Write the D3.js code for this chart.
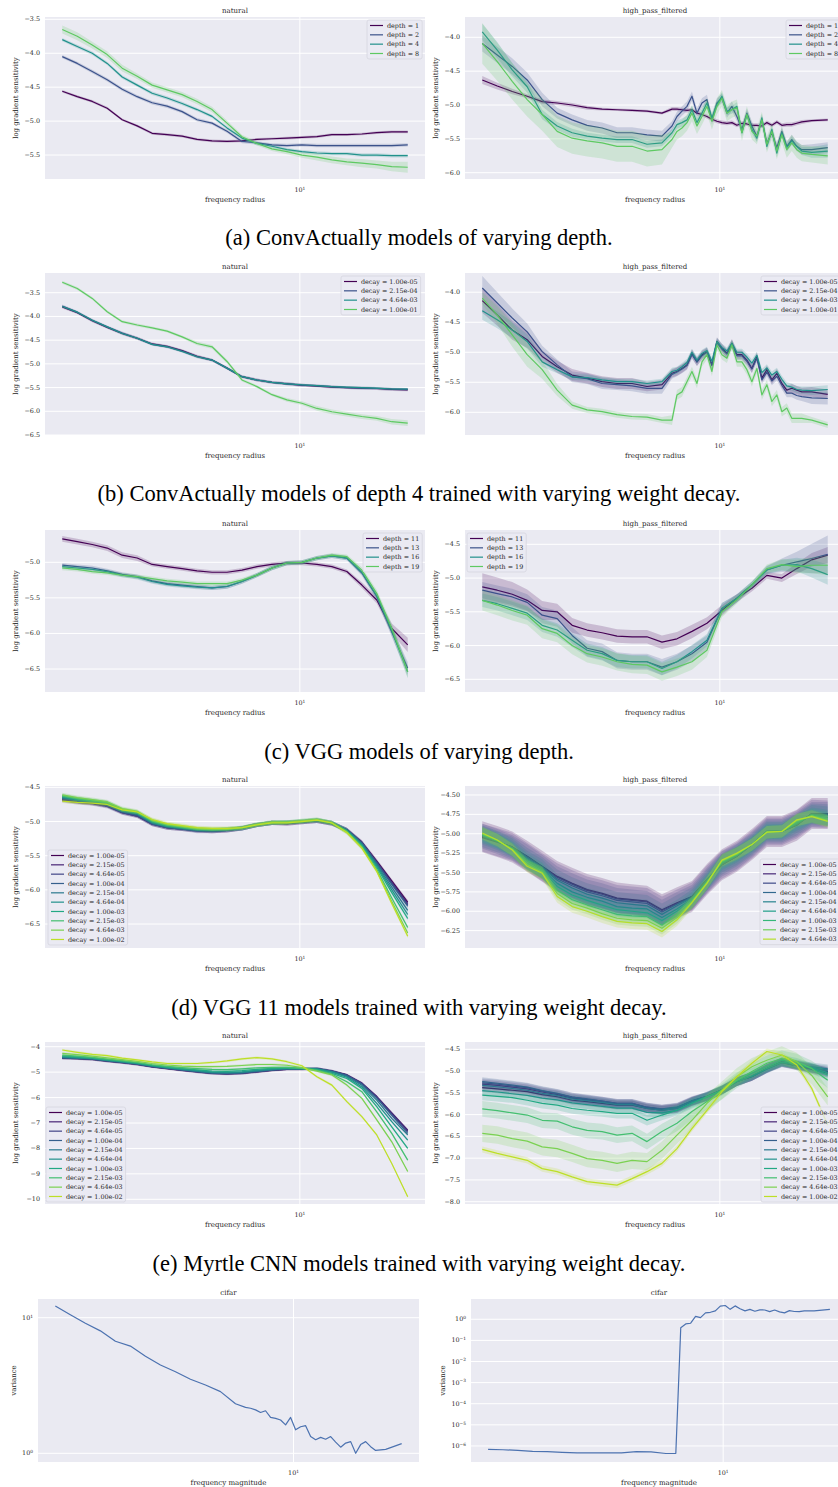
<!DOCTYPE html>
<html>
<head>
<meta charset="utf-8">
<script src="https://cdnjs.cloudflare.com/ajax/libs/d3/7.8.5/d3.min.js"></script>
<style>
  body { margin: 0; background: #fff; }
  text { font-family: "DejaVu Serif", serif; fill: #262626; }
  .caption { font-family: "Liberation Serif", "Times New Roman", serif; fill: #000; font-size: 22.5px; }
</style>
</head>
<body>
<svg id="fig" width="838" height="1487"></svg>
<script>
// frequency radius grids (coarse for smooth curves, fine where the curves wiggle)
var xCoarse = [1.66, 1.859, 2.082, 2.331, 2.611, 2.924, 3.275, 3.667, 4.107, 4.598, 5.15, 5.766, 6.456, 7.232, 8.099, 9.071, 10.158, 11.376, 12.74, 14.267, 15.978, 17.887, 20.033, 22.6];
var xFine = [1.66, 1.859, 2.082, 2.331, 2.611, 2.924, 3.275, 3.667, 4.107, 4.598, 5.15, 5.766, 6.456,
  6.965, 7.232, 7.511, 7.8, 8.099, 8.411, 8.735, 9.071, 9.42, 9.782, 10.158, 10.549, 10.955, 11.376, 11.814,
  12.268, 12.74, 13.23, 13.739, 14.267, 14.816, 15.386, 15.978, 16.586, 17.224, 17.887, 18.575, 20.033, 22.6];

// legend labels
var depthConv = ["depth = 1", "depth = 2", "depth = 4", "depth = 8"];
var decayConv = ["decay = 1.00e-05", "decay = 2.15e-04", "decay = 4.64e-03", "decay = 1.00e-01"];
var depthVgg = ["depth = 11", "depth = 13", "depth = 16", "depth = 19"];
var decay10 = ["decay = 1.00e-05", "decay = 2.15e-05", "decay = 4.64e-05", "decay = 1.00e-04", "decay = 2.15e-04",
  "decay = 4.64e-04", "decay = 1.00e-03", "decay = 2.15e-03", "decay = 4.64e-03", "decay = 1.00e-02"];
var decay9 = decay10.slice(0, 9);

// (a) ConvActually, varying depth - natural
var aNat1 = [-4.56,-4.64,-4.71,-4.81,-4.98,-5.07,-5.18,-5.20,-5.22,-5.27,-5.29,-5.30,-5.29,-5.27,-5.26,-5.25,-5.24,-5.23,-5.20,-5.20,-5.19,-5.17,-5.16,-5.16];
var aNat2 = [-4.05,-4.15,-4.27,-4.39,-4.53,-4.64,-4.73,-4.78,-4.86,-4.98,-5.03,-5.15,-5.30,-5.32,-5.35,-5.36,-5.35,-5.36,-5.36,-5.36,-5.36,-5.36,-5.36,-5.35];
var aNat4 = [-3.80,-3.90,-4.00,-4.15,-4.35,-4.47,-4.59,-4.66,-4.74,-4.83,-4.93,-5.10,-5.25,-5.33,-5.37,-5.42,-5.45,-5.47,-5.48,-5.48,-5.50,-5.50,-5.51,-5.51];
var aNat8 = [-3.65,-3.75,-3.88,-4.02,-4.22,-4.34,-4.47,-4.54,-4.61,-4.71,-4.83,-5.03,-5.23,-5.33,-5.41,-5.45,-5.50,-5.53,-5.57,-5.60,-5.62,-5.64,-5.67,-5.68];
var aNat8Sd = [.06,.06,.05,.05,.05,.04,.04,.04,.04,.04,.04,.04,.03,.03,.03,.04,.04,.05,.05,.05,.06,.06,.07,.08];

// (a) high_pass_filtered
var aHigh1 = [-4.63,-4.72,-4.80,-4.87,-4.95,-4.97,-5.00,-5.04,-5.06,-5.07,-5.08,-5.09,-5.12,
  -5.06,-5.06,-5.07,-5.08,-5.07,-5.12,-5.14,-5.17,-5.21,-5.24,-5.26,-5.27,-5.26,-5.30,-5.27,-5.28,-5.30,-5.30,-5.31,-5.26,-5.30,-5.25,-5.30,-5.29,-5.29,-5.27,-5.25,
  -5.23,-5.22];
var aHigh2 = [-4.09,-4.26,-4.43,-4.63,-4.92,-5.12,-5.22,-5.30,-5.34,-5.41,-5.41,-5.44,-5.46,
  -5.31,-5.17,-5.09,-5.02,-4.87,-5.12,-4.97,-4.92,-5.22,-4.97,-4.90,-5.12,-5.02,-5.17,-5.36,-5.12,-5.31,-5.46,-5.22,-5.56,-5.41,-5.63,-5.39,-5.61,-5.51,-5.61,-5.66,
  -5.66,-5.63];
var aHigh4 = [-3.92,-4.19,-4.48,-4.73,-5.14,-5.31,-5.41,-5.46,-5.49,-5.51,-5.51,-5.58,-5.56,
  -5.41,-5.29,-5.26,-5.22,-5.07,-5.26,-5.12,-4.97,-5.19,-4.99,-4.87,-5.09,-5.07,-5.02,-5.41,-5.14,-5.36,-5.49,-5.19,-5.61,-5.36,-5.71,-5.41,-5.63,-5.53,-5.61,-5.68,
  -5.70,-5.68];
var aHigh8 = [-4.09,-4.36,-4.65,-4.92,-5.14,-5.39,-5.49,-5.53,-5.56,-5.61,-5.61,-5.68,-5.66,
  -5.51,-5.39,-5.34,-5.26,-5.12,-5.31,-5.17,-5.02,-5.24,-5.02,-4.90,-5.12,-5.07,-5.04,-5.41,-5.14,-5.39,-5.46,-5.22,-5.58,-5.39,-5.68,-5.44,-5.66,-5.56,-5.66,-5.71,
  -5.73,-5.75];
var aHigh1Sd = [.06,.05,.04,.03,.03,.03,.03,.03,.02,.02,.02,.02,.02,
  .03,.03,.03,.03,.03,.03,.03,.03,.03,.03,.03,.03,.03,.03,.03,.03,.03,.03,.03,.03,.03,.03,.03,.03,.03,.03,.03, .02,.02];
var aHigh2Sd = [.12,.12,.12,.11,.10,.08,.08,.08,.08,.08,.08,.08,.08,
  .07,.07,.07,.07,.07,.07,.07,.07,.07,.07,.07,.07,.07,.07,.07,.07,.07,.07,.07,.07,.07,.07,.07,.07,.07,.07,.07, .08,.08];
var aHigh4Sd = [.12,.12,.10,.09,.07,.06,.06,.05,.05,.05,.05,.05,.05,
  .06,.06,.06,.06,.06,.06,.06,.06,.06,.06,.06,.06,.06,.06,.06,.06,.06,.06,.06,.06,.06,.06,.06,.06,.06,.06,.06, .08,.10];
var aHigh8Sd = [.30,.28,.27,.25,.24,.23,.23,.23,.23,.23,.23,.23,.22,
  .12,.12,.12,.12,.12,.12,.12,.12,.12,.12,.12,.12,.12,.12,.12,.12,.12,.12,.12,.12,.12,.12,.12,.12,.12,.12,.12, .12,.13];

// (b) ConvActually depth 4, weight decay - natural
var bNat1 = [-3.80,-3.92,-4.09,-4.23,-4.36,-4.46,-4.58,-4.63,-4.72,-4.84,-4.92,-5.09,-5.27,-5.34,-5.39,-5.42,-5.45,-5.47,-5.49,-5.50,-5.51,-5.52,-5.54,-5.55];
var bNat2 = [-3.78,-3.91,-4.08,-4.22,-4.35,-4.46,-4.59,-4.64,-4.73,-4.85,-4.92,-5.09,-5.27,-5.34,-5.39,-5.42,-5.45,-5.46,-5.48,-5.50,-5.51,-5.52,-5.53,-5.54];
var bNat3 = [-3.79,-3.91,-4.08,-4.22,-4.36,-4.46,-4.59,-4.64,-4.74,-4.85,-4.92,-5.09,-5.27,-5.34,-5.39,-5.42,-5.44,-5.46,-5.48,-5.49,-5.50,-5.51,-5.53,-5.53];
var bNat4 = [-3.28,-3.41,-3.62,-3.90,-4.11,-4.18,-4.24,-4.31,-4.43,-4.57,-4.64,-4.95,-5.34,-5.48,-5.65,-5.76,-5.83,-5.94,-6.01,-6.06,-6.11,-6.15,-6.22,-6.25];
var bNat4Sd = [.03,.03,.03,.03,.03,.03,.03,.03,.03,.04,.04,.04,.03,.03,.03,.04,.04,.05,.05,.05,.05,.05,.06,.06];

// (b) high_pass_filtered
var bHigh1 = [-4.14,-4.38,-4.63,-4.79,-5.07,-5.24,-5.38,-5.43,-5.49,-5.52,-5.52,-5.57,-5.54,
  -5.35,-5.32,-5.27,-5.21,-5.02,-5.16,-5.04,-4.99,-5.21,-4.82,-4.93,-5.02,-4.85,-5.04,-5.04,-5.13,-5.27,-5.07,-5.43,-5.29,-5.46,-5.35,-5.52,-5.63,-5.60,-5.63,-5.66,
  -5.66,-5.70];
var bHigh2 = [-3.93,-4.18,-4.43,-4.66,-4.99,-5.21,-5.41,-5.44,-5.52,-5.54,-5.56,-5.60,-5.60,
  -5.37,-5.33,-5.28,-5.22,-5.04,-5.16,-5.06,-5.00,-5.22,-4.84,-4.95,-5.03,-4.87,-5.06,-5.06,-5.15,-5.28,-5.10,-5.46,-5.33,-5.48,-5.40,-5.55,-5.68,-5.68,-5.72,-5.74,
  -5.76,-5.77];
var bHigh3 = [-4.31,-4.46,-4.63,-4.82,-5.16,-5.29,-5.41,-5.42,-5.46,-5.49,-5.49,-5.52,-5.49,
  -5.32,-5.30,-5.24,-5.17,-5.00,-5.13,-5.02,-4.97,-5.15,-4.82,-4.92,-4.98,-4.85,-5.00,-5.00,-5.08,-5.18,-5.05,-5.34,-5.26,-5.38,-5.32,-5.45,-5.56,-5.58,-5.62,-5.63,
  -5.64,-5.62];
var bHigh4 = [-4.10,-4.38,-4.71,-5.04,-5.29,-5.63,-5.88,-5.96,-5.99,-6.04,-6.07,-6.08,-6.13,
  -6.13,-5.71,-5.66,-5.49,-5.32,-5.52,-5.16,-5.04,-5.32,-4.88,-5.04,-5.10,-4.88,-5.16,-5.16,-5.29,-5.49,-5.27,-5.71,-5.54,-5.82,-5.71,-5.99,-5.93,-6.10,-6.10,-6.10,
  -6.13,-6.21];
var bHigh1Sd = [.20,.18,.16,.14,.10,.10,.10,.09,.09,.09,.09,.08,.08,
  .07,.07,.07,.07,.07,.07,.07,.07,.07,.07,.07,.07,.07,.07,.07,.07,.07,.07,.07,.07,.07,.07,.07,.07,.07,.07,.07, .08,.08];
var bHigh2Sd = [.20,.18,.16,.14,.10,.09,.09,.09,.09,.09,.09,.09,.09,
  .07,.07,.07,.07,.07,.07,.07,.07,.07,.07,.07,.07,.07,.07,.07,.07,.07,.07,.07,.07,.07,.07,.07,.07,.07,.07,.07, .10,.10];
var bHigh3Sd = [.15,.14,.13,.12,.08,.06,.05,.05,.05,.05,.05,.05,.05,
  .06,.06,.06,.06,.06,.06,.06,.06,.06,.06,.06,.06,.06,.06,.06,.06,.06,.06,.06,.06,.06,.06,.06,.06,.06,.06,.06, .07,.07];
var bHigh4Sd = [.10,.15,.20,.20,.15,.10,.06,.05,.05,.05,.05,.05,.05,
  .08,.08,.08,.08,.08,.08,.08,.08,.08,.08,.08,.08,.08,.08,.08,.08,.08,.08,.08,.08,.08,.08,.08,.08,.08,.08,.08, .05,.05];

// (c) VGG, varying depth - natural
var cNat11 = [-4.67,-4.71,-4.75,-4.80,-4.90,-4.94,-5.03,-5.06,-5.09,-5.12,-5.14,-5.14,-5.11,-5.06,-5.03,-5.01,-5.01,-5.03,-5.06,-5.13,-5.32,-5.53,-5.93,-6.16];
var cNat13 = [-5.04,-5.06,-5.08,-5.12,-5.17,-5.20,-5.26,-5.30,-5.32,-5.34,-5.36,-5.34,-5.27,-5.18,-5.08,-5.01,-5.00,-4.94,-4.91,-4.94,-5.15,-5.48,-5.98,-6.49];
var cNat16 = [-5.06,-5.08,-5.10,-5.13,-5.18,-5.21,-5.27,-5.31,-5.33,-5.35,-5.36,-5.34,-5.27,-5.18,-5.08,-5.01,-5.00,-4.94,-4.91,-4.94,-5.14,-5.47,-5.96,-6.54];
var cNat19 = [-5.08,-5.10,-5.13,-5.15,-5.18,-5.20,-5.23,-5.26,-5.28,-5.30,-5.30,-5.30,-5.25,-5.18,-5.08,-5.01,-5.00,-4.94,-4.90,-4.92,-5.11,-5.44,-5.93,-6.54];
var cNat11Sd = [.04,.04,.04,.04,.04,.04,.03,.03,.03,.03,.03,.03,.03,.03,.03,.03,.03,.03,.03,.03,.04,.05,.07,.10];
var cNat13Sd = [.03,.03,.03,.03,.03,.03,.03,.03,.03,.03,.03,.03,.03,.03,.03,.03,.03,.03,.03,.03,.04,.05,.07,.09];
var cNat19Sd = [.03,.03,.03,.03,.03,.03,.03,.03,.03,.03,.03,.03,.03,.03,.03,.03,.03,.03,.03,.03,.04,.05,.07,.08];

// (c) high_pass_filtered
var cHigh11 = [-5.13,-5.18,-5.24,-5.33,-5.48,-5.50,-5.70,-5.77,-5.81,-5.86,-5.87,-5.87,-5.95,-5.90,-5.79,-5.67,-5.48,-5.30,-5.15,-4.96,-5.00,-4.86,-4.73,-4.66];
var cHigh13 = [-5.18,-5.23,-5.28,-5.36,-5.55,-5.60,-5.85,-6.04,-6.09,-6.22,-6.24,-6.24,-6.32,-6.24,-6.12,-5.95,-5.45,-5.30,-5.10,-4.88,-4.81,-4.76,-4.71,-4.65];
var cHigh16 = [-5.33,-5.38,-5.45,-5.52,-5.70,-5.77,-5.92,-6.07,-6.12,-6.22,-6.24,-6.24,-6.34,-6.24,-6.09,-5.92,-5.45,-5.30,-5.10,-4.88,-4.81,-4.80,-4.86,-4.95];
var cHigh19 = [-5.33,-5.40,-5.48,-5.55,-5.75,-5.82,-6.00,-6.12,-6.17,-6.24,-6.28,-6.29,-6.39,-6.32,-6.24,-6.07,-5.50,-5.32,-5.10,-4.86,-4.80,-4.83,-4.81,-4.81];
var cHigh11Sd = [.20,.19,.18,.16,.14,.12,.11,.10,.10,.10,.10,.10,.10,.10,.10,.09,.08,.06,.05,.05,.06,.08,.10,.12];
var cHigh13Sd = [.12,.12,.12,.12,.12,.12,.12,.12,.12,.12,.12,.12,.12,.12,.12,.10,.08,.06,.05,.06,.10,.15,.22,.28];
var cHigh16Sd = [.10,.10,.10,.10,.10,.10,.10,.10,.10,.10,.10,.10,.10,.10,.10,.09,.08,.06,.05,.06,.08,.10,.13,.15];
var cHigh19Sd = [.15,.15,.15,.14,.14,.13,.13,.13,.13,.13,.13,.13,.13,.13,.12,.10,.08,.06,.05,.06,.08,.10,.12,.15];

// (d) VGG 11, weight decay - natural
var dNat = [
  [-4.68,-4.71,-4.73,-4.77,-4.87,-4.92,-5.04,-5.09,-5.11,-5.13,-5.14,-5.13,-5.10,-5.05,-5.02,-5.03,-5.01,-4.99,-5.03,-5.12,-5.30,-5.58,-5.87,-6.18],
  [-4.67,-4.71,-4.73,-4.77,-4.86,-4.91,-5.03,-5.09,-5.11,-5.13,-5.14,-5.13,-5.10,-5.05,-5.02,-5.03,-5.01,-4.99,-5.03,-5.12,-5.31,-5.59,-5.89,-6.20],
  [-4.69,-4.72,-4.74,-4.78,-4.87,-4.92,-5.04,-5.09,-5.11,-5.14,-5.14,-5.13,-5.10,-5.05,-5.02,-5.02,-5.01,-4.99,-5.03,-5.12,-5.31,-5.60,-5.90,-6.22],
  [-4.66,-4.70,-4.72,-4.76,-4.86,-4.90,-5.03,-5.08,-5.10,-5.13,-5.13,-5.12,-5.10,-5.05,-5.02,-5.02,-5.00,-4.99,-5.02,-5.12,-5.31,-5.61,-5.92,-6.24],
  [-4.65,-4.69,-4.71,-4.75,-4.85,-4.89,-5.02,-5.07,-5.10,-5.12,-5.13,-5.12,-5.10,-5.05,-5.02,-5.02,-5.00,-4.98,-5.02,-5.13,-5.33,-5.63,-5.96,-6.30],
  [-4.64,-4.68,-4.70,-4.74,-4.84,-4.88,-5.01,-5.07,-5.09,-5.12,-5.13,-5.12,-5.10,-5.05,-5.02,-5.01,-5.00,-4.98,-5.02,-5.13,-5.34,-5.65,-6.00,-6.36],
  [-4.63,-4.67,-4.70,-4.73,-4.83,-4.87,-5.00,-5.06,-5.09,-5.11,-5.12,-5.11,-5.09,-5.05,-5.02,-5.01,-5.00,-4.98,-5.02,-5.14,-5.35,-5.67,-6.04,-6.42],
  [-4.62,-4.66,-4.69,-4.72,-4.82,-4.86,-4.99,-5.05,-5.08,-5.11,-5.12,-5.11,-5.09,-5.04,-5.01,-5.01,-4.99,-4.97,-5.02,-5.15,-5.37,-5.70,-6.12,-6.55],
  [-4.61,-4.65,-4.68,-4.71,-4.81,-4.85,-4.98,-5.04,-5.07,-5.10,-5.11,-5.11,-5.09,-5.04,-5.01,-5.01,-4.99,-4.97,-5.02,-5.16,-5.38,-5.72,-6.17,-6.63],
  [-4.70,-4.72,-4.73,-4.75,-4.83,-4.86,-4.97,-5.03,-5.06,-5.09,-5.10,-5.10,-5.09,-5.05,-5.02,-5.02,-5.00,-4.98,-5.02,-5.16,-5.39,-5.73,-6.20,-6.68]
];

// (d) high_pass_filtered
var dHigh = [
  [-5.04,-5.10,-5.17,-5.29,-5.42,-5.55,-5.64,-5.72,-5.77,-5.83,-5.85,-5.87,-5.98,-5.89,-5.81,-5.59,-5.40,-5.29,-5.14,-4.97,-4.97,-4.89,-4.74,-4.74],
  [-5.05,-5.11,-5.17,-5.30,-5.43,-5.56,-5.65,-5.73,-5.78,-5.84,-5.86,-5.88,-5.99,-5.90,-5.81,-5.59,-5.40,-5.29,-5.14,-4.97,-4.97,-4.88,-4.74,-4.75],
  [-5.03,-5.10,-5.18,-5.30,-5.43,-5.58,-5.67,-5.75,-5.80,-5.86,-5.88,-5.90,-6.01,-5.91,-5.82,-5.60,-5.39,-5.29,-5.14,-4.97,-4.97,-4.88,-4.75,-4.75],
  [-5.03,-5.10,-5.18,-5.32,-5.44,-5.60,-5.70,-5.78,-5.83,-5.89,-5.91,-5.93,-6.04,-5.93,-5.83,-5.60,-5.39,-5.28,-5.14,-4.97,-4.97,-4.88,-4.75,-4.76],
  [-5.02,-5.09,-5.18,-5.34,-5.45,-5.64,-5.75,-5.82,-5.87,-5.94,-5.96,-5.97,-6.08,-5.97,-5.84,-5.61,-5.38,-5.28,-5.14,-4.97,-4.97,-4.87,-4.75,-4.77],
  [-5.02,-5.09,-5.19,-5.35,-5.47,-5.68,-5.79,-5.86,-5.92,-5.98,-6.00,-6.02,-6.12,-6.00,-5.85,-5.62,-5.37,-5.27,-5.14,-4.97,-4.97,-4.86,-4.76,-4.79],
  [-5.01,-5.09,-5.20,-5.38,-5.48,-5.73,-5.85,-5.92,-5.98,-6.04,-6.06,-6.07,-6.18,-6.04,-5.87,-5.63,-5.36,-5.26,-5.14,-4.98,-4.97,-4.84,-4.77,-4.81],
  [-5.00,-5.08,-5.20,-5.40,-5.50,-5.77,-5.90,-5.96,-6.03,-6.09,-6.11,-6.12,-6.22,-6.08,-5.88,-5.63,-5.35,-5.26,-5.14,-4.98,-4.97,-4.83,-4.77,-4.83],
  [-4.99,-5.08,-5.21,-5.42,-5.51,-5.81,-5.94,-6.00,-6.07,-6.13,-6.15,-6.16,-6.26,-6.11,-5.89,-5.64,-5.34,-5.25,-5.14,-4.98,-4.97,-4.82,-4.78,-4.84]
];
var dHighSd = [.20,.18,.16,.14,.12,.10,.09,.08,.08,.08,.08,.08,.08,.07,.06,.05,.05,.04,.04,.04,.05,.08,.10,.12];

// (e) Myrtle CNN, weight decay - natural
var eNat = [
  [-4.45,-4.47,-4.50,-4.57,-4.63,-4.70,-4.79,-4.86,-4.93,-4.99,-5.05,-5.07,-5.05,-4.99,-4.93,-4.89,-4.89,-4.86,-4.96,-5.11,-5.44,-5.97,-6.62,-7.30],
  [-4.44,-4.46,-4.49,-4.56,-4.62,-4.69,-4.78,-4.85,-4.92,-4.98,-5.04,-5.06,-5.04,-4.98,-4.92,-4.88,-4.88,-4.86,-4.96,-5.11,-5.43,-5.96,-6.60,-7.28],
  [-4.44,-4.46,-4.49,-4.56,-4.62,-4.69,-4.78,-4.85,-4.92,-4.98,-5.04,-5.06,-5.04,-4.98,-4.92,-4.88,-4.88,-4.86,-4.96,-5.12,-5.45,-5.99,-6.65,-7.34],
  [-4.43,-4.45,-4.48,-4.55,-4.61,-4.68,-4.77,-4.84,-4.91,-4.97,-5.03,-5.05,-5.03,-4.97,-4.91,-4.87,-4.87,-4.86,-4.97,-5.13,-5.47,-6.02,-6.70,-7.41],
  [-4.42,-4.44,-4.47,-4.54,-4.60,-4.67,-4.76,-4.83,-4.90,-4.96,-5.02,-5.03,-5.01,-4.95,-4.90,-4.86,-4.86,-4.87,-4.98,-5.16,-5.52,-6.10,-6.82,-7.47],
  [-4.40,-4.43,-4.46,-4.53,-4.59,-4.66,-4.75,-4.82,-4.88,-4.94,-5.00,-5.01,-4.99,-4.93,-4.88,-4.85,-4.86,-4.88,-5.00,-5.20,-5.58,-6.23,-6.95,-7.67],
  [-4.36,-4.40,-4.44,-4.51,-4.57,-4.64,-4.73,-4.80,-4.86,-4.91,-4.96,-4.97,-4.94,-4.89,-4.85,-4.83,-4.85,-4.90,-5.05,-5.25,-5.64,-6.36,-7.15,-8.00],
  [-4.33,-4.37,-4.42,-4.49,-4.55,-4.62,-4.71,-4.77,-4.82,-4.86,-4.89,-4.90,-4.87,-4.83,-4.81,-4.81,-4.85,-4.93,-5.08,-5.38,-5.77,-6.56,-7.41,-8.46],
  [-4.26,-4.31,-4.37,-4.44,-4.51,-4.58,-4.66,-4.72,-4.76,-4.78,-4.78,-4.77,-4.74,-4.70,-4.70,-4.73,-4.82,-4.96,-5.11,-5.51,-6.03,-6.88,-7.74,-8.91],
  [-4.13,-4.22,-4.30,-4.35,-4.45,-4.52,-4.60,-4.66,-4.66,-4.66,-4.62,-4.56,-4.48,-4.43,-4.48,-4.59,-4.75,-5.18,-5.51,-6.16,-6.75,-7.47,-8.59,-9.90]
];

// (e) high_pass_filtered
var eHigh = [
  [-5.38,-5.41,-5.44,-5.47,-5.54,-5.59,-5.67,-5.70,-5.74,-5.78,-5.78,-5.86,-5.90,-5.86,-5.70,-5.59,-5.44,-5.24,-5.13,-4.94,-4.78,-4.86,-4.94,-5.01],
  [-5.30,-5.33,-5.37,-5.41,-5.48,-5.54,-5.62,-5.66,-5.70,-5.75,-5.75,-5.84,-5.88,-5.84,-5.69,-5.58,-5.43,-5.24,-5.12,-4.94,-4.80,-4.88,-4.96,-5.05],
  [-5.27,-5.30,-5.34,-5.38,-5.46,-5.52,-5.60,-5.65,-5.69,-5.74,-5.74,-5.83,-5.88,-5.84,-5.69,-5.58,-5.43,-5.24,-5.12,-4.94,-4.80,-4.87,-4.94,-5.02],
  [-5.24,-5.28,-5.32,-5.37,-5.45,-5.51,-5.60,-5.64,-5.69,-5.74,-5.74,-5.83,-5.87,-5.83,-5.68,-5.58,-5.43,-5.24,-5.12,-4.95,-4.81,-4.87,-4.93,-4.98],
  [-5.33,-5.36,-5.40,-5.44,-5.51,-5.56,-5.64,-5.68,-5.72,-5.77,-5.77,-5.86,-5.90,-5.86,-5.70,-5.59,-5.44,-5.24,-5.12,-4.95,-4.80,-4.85,-4.90,-4.95],
  [-5.45,-5.48,-5.52,-5.56,-5.62,-5.66,-5.73,-5.77,-5.81,-5.85,-5.85,-5.95,-5.96,-5.90,-5.73,-5.60,-5.44,-5.24,-5.11,-4.94,-4.79,-4.84,-4.92,-5.04],
  [-5.55,-5.58,-5.61,-5.67,-5.74,-5.78,-5.86,-5.90,-5.93,-5.97,-5.97,-6.13,-6.01,-5.90,-5.74,-5.59,-5.44,-5.21,-5.05,-4.90,-4.75,-4.82,-4.94,-5.09],
  [-5.87,-5.91,-5.96,-6.01,-6.13,-6.15,-6.28,-6.36,-6.39,-6.47,-6.43,-6.62,-6.39,-6.20,-5.93,-5.70,-5.47,-5.21,-5.01,-4.82,-4.71,-4.78,-4.94,-5.21],
  [-6.43,-6.47,-6.55,-6.61,-6.74,-6.78,-6.89,-7.01,-7.05,-7.12,-7.05,-7.08,-6.82,-6.47,-6.13,-5.74,-5.44,-5.13,-4.90,-4.75,-4.63,-4.78,-5.10,-5.59],
  [-6.80,-6.89,-6.97,-7.05,-7.24,-7.31,-7.43,-7.54,-7.58,-7.62,-7.47,-7.31,-7.12,-6.78,-6.32,-5.90,-5.47,-5.13,-4.82,-4.55,-4.63,-4.86,-5.40,-6.24]
];
var eHighSd = [.10, .10, .10, .10, .10, .10, .12, .18, .20, .07];

// (f) cifar variance by frequency magnitude
var cifarNatural = [12.2, 10.5, 9.1, 8.0, 6.7, 6.18, 5.2, 4.48, 4.0, 3.52, 3.19, 2.85, 2.32,
  2.18, 2.15, 2.09, 2.00, 2.06, 1.84, 1.81, 1.76, 1.62, 1.84, 1.49, 1.57, 1.60, 1.33, 1.26, 1.31, 1.27, 1.33, 1.21, 1.11, 1.19, 1.22, 1.00, 1.16, 1.22, 1.12, 1.05,
  1.07, 1.18];
var cifarHigh = [6.9e-7, 6.6e-7, 6.2e-7, 5.5e-7, 5.4e-7, 5.0e-7, 4.7e-7, 4.7e-7, 4.7e-7, 4.7e-7, 5.4e-7, 5.2e-7, 4.4e-7,
  4.5e-7, 0.40, 0.60, 0.65, 1.38, 1.20, 2.0, 2.14, 2.5, 4.2, 4.5, 2.95, 4.3, 3.16, 2.5, 2.95, 2.4, 2.8, 2.75, 2.3, 2.75, 2.24, 2.0, 2.57, 2.34, 2.3, 2.5,
  2.5, 2.95];

// tick values
var ticksANat = [-3.5, -4.0, -4.5, -5.0, -5.5];
var ticksAHigh = [-4.0, -4.5, -5.0, -5.5, -6.0];
var ticksBNat = [-3.5, -4.0, -4.5, -5.0, -5.5, -6.0, -6.5];
var ticksBHigh = [-4.0, -4.5, -5.0, -5.5, -6.0];
var ticksCNat = [-5.0, -5.5, -6.0, -6.5];
var ticksCHigh = [-4.5, -5.0, -5.5, -6.0, -6.5];
var ticksDNat = [-4.5, -5.0, -5.5, -6.0, -6.5];
var ticksDHigh = [-4.50, -4.75, -5.00, -5.25, -5.50, -5.75, -6.00, -6.25];
var ticksENat = [-4, -5, -6, -7, -8, -9, -10];
var ticksEHigh = [-4.5, -5.0, -5.5, -6.0, -6.5, -7.0, -7.5, -8.0];
var ticksFNat = [1, 10];
var ticksFHigh = [1e-6, 1e-5, 1e-4, 1e-3, 1e-2, 1e-1, 1];

var captions = [
  "(a) ConvActually models of varying depth.",
  "(b) ConvActually models of depth 4 trained with varying weight decay.",
  "(c) VGG models of varying depth.",
  "(d) VGG 11 models trained with varying weight decay.",
  "(e) Myrtle CNN models trained with varying weight decay."
];

function pack(labels, values, sds) {
  return labels.map(function(l, i) {
    return {label: l, values: values[i], sd: Array.isArray(sds) ? sds[i] : sds};
  });
}

var L = 45, R = 465, W = 380, H = 162;
var panels = [
  {left: L, top: 17, title: "natural", xs: xCoarse, series: pack(depthConv, [aNat1, aNat2, aNat4, aNat8], [.02, .025, .025, aNat8Sd]),
   yDomain: [-5.853, -3.466], yTicks: ticksANat, fmt: ".1f", legend: {left: 367, top: 20}},
  {left: R, top: 17, title: "high_pass_filtered", xs: xFine, series: pack(depthConv, [aHigh1, aHigh2, aHigh4, aHigh8], [aHigh1Sd, aHigh2Sd, aHigh4Sd, aHigh8Sd]),
   yDomain: [-6.093, -3.70], yTicks: ticksAHigh, fmt: ".1f", legend: {left: 786, top: 20}},
  {left: L, top: 273, title: "natural", xs: xCoarse, series: pack(decayConv, [bNat1, bNat2, bNat3, bNat4], [.03, .03, .02, bNat4Sd]),
   yDomain: [-6.5, -3.084], yTicks: ticksBNat, fmt: ".1f", legend: {left: 341, top: 276}},
  {left: R, top: 273, title: "high_pass_filtered", xs: xFine, series: pack(decayConv, [bHigh1, bHigh2, bHigh3, bHigh4], [bHigh1Sd, bHigh2Sd, bHigh3Sd, bHigh4Sd]),
   yDomain: [-6.378, -3.68], yTicks: ticksBHigh, fmt: ".1f", legend: {left: 761, top: 276}},
  {left: L, top: 530, title: "natural", xs: xCoarse, series: pack(depthVgg, [cNat11, cNat13, cNat16, cNat19], [cNat11Sd, cNat13Sd, cNat13Sd, cNat19Sd]),
   yDomain: [-6.823, -4.546], yTicks: ticksCNat, fmt: ".1f", legend: {left: 363, top: 533}},
  {left: R, top: 530, title: "high_pass_filtered", xs: xCoarse, series: pack(depthVgg, [cHigh11, cHigh13, cHigh16, cHigh19], [cHigh11Sd, cHigh13Sd, cHigh16Sd, cHigh19Sd]),
   yDomain: [-6.688, -4.288], yTicks: ticksCHigh, fmt: ".1f", legend: {left: 467, top: 533}},
  {left: L, top: 786, title: "natural", xs: xCoarse, series: pack(decay10, dNat, .03),
   yDomain: [-6.851, -4.48], yTicks: ticksDNat, fmt: ".1f", legend: {left: 48, top: 850}},
  {left: R, top: 786, title: "high_pass_filtered", xs: xCoarse, series: pack(decay9, dHigh, dHighSd),
   yDomain: [-6.474, -4.384], yTicks: ticksDHigh, fmt: ".2f", legend: {left: 760, top: 859}},
  {left: L, top: 1042, title: "natural", xs: xCoarse, series: pack(decay10, eNat, .05),
   yDomain: [-10.185, -3.815], yTicks: ticksENat, fmt: "d", legend: {left: 46, top: 1107}},
  {left: R, top: 1042, title: "high_pass_filtered", xs: xCoarse, series: pack(decay10, eHigh, eHighSd),
   yDomain: [-8.053, -4.332], yTicks: ticksEHigh, fmt: ".1f", legend: {left: 761, top: 1107}},
  {left: 38, top: 1299, width: 381, height: 163, title: "cifar", xs: xFine, series: [{values: cifarNatural}],
   logY: true, yDomain: [0.863, 13.74], yTicks: ticksFNat, xlabel: "frequency magnitude", ylabel: "variance", ylabelX: 14, color: "#4c72b0"},
  {left: 471, top: 1299, width: 376, height: 163, title: "cifar", xs: xFine, series: [{values: cifarHigh}],
   logY: true, yDomain: [1.74e-7, 9.12], yTicks: ticksFHigh, xlabel: "frequency magnitude", ylabel: "variance", ylabelX: 443, color: "#4c72b0"}
];

var svg = d3.select("#fig");

function powerLabel(sel, exp) {
  sel.text("10");
  sel.append("tspan").attr("dy", "-0.5em").attr("font-size", "0.68em").text(d3.format("d")(exp));
}

function drawPanel(p, k) {
  var w = p.width || W, h = p.height || H;
  var x0 = p.left, x1 = p.left + w, y0 = p.top, y1 = p.top + h;
  var ext = d3.extent(p.xs).map(Math.log10), m = (ext[1] - ext[0]) * 0.05;
  var x = d3.scaleLog().domain([Math.pow(10, ext[0] - m), Math.pow(10, ext[1] + m)]).range([x0, x1]);
  var y = (p.logY ? d3.scaleLog() : d3.scaleLinear()).domain(p.yDomain).range([y1, y0]);
  var g = svg.append("g");

  g.append("clipPath").attr("id", "clip" + k).append("rect")
    .attr("x", x0).attr("y", y0).attr("width", w).attr("height", h);
  g.append("rect").attr("x", x0).attr("y", y0).attr("width", w).attr("height", h).attr("fill", "#eaeaf2");

  g.selectAll(".hgrid").data(p.yTicks).enter().append("line")
    .attr("x1", x0).attr("x2", x1)
    .attr("y1", function(d) { return y(d); }).attr("y2", function(d) { return y(d); })
    .attr("stroke", "#fff").attr("stroke-width", 1);
  g.append("line").attr("x1", x(10)).attr("x2", x(10)).attr("y1", y0).attr("y2", y1)
    .attr("stroke", "#fff").attr("stroke-width", 1);

  var ytl = g.selectAll(".ytick").data(p.yTicks).enter().append("text")
    .attr("x", x0 - 5).attr("y", function(d) { return y(d); }).attr("dy", "0.32em")
    .attr("text-anchor", "end").attr("font-size", 6.4);
  if (p.logY) ytl.each(function(d) { powerLabel(d3.select(this), Math.round(Math.log10(d))); });
  else ytl.text(function(d) { return d3.format(p.fmt)(d); });

  powerLabel(g.append("text").attr("x", x(10)).attr("y", y1 + 13).attr("text-anchor", "middle").attr("font-size", 6.4), 1);

  g.append("text").attr("x", (x0 + x1) / 2).attr("y", y0 - 4).attr("text-anchor", "middle").attr("font-size", 7).text(p.title);
  g.append("text").attr("x", (x0 + x1) / 2).attr("y", y1 + 23).attr("text-anchor", "middle").attr("font-size", 7)
    .text(p.xlabel || "frequency radius");
  var yx = p.ylabelX || (x0 - 29), ym = (y0 + y1) / 2;
  g.append("text").attr("transform", "translate(" + yx + "," + ym + ") rotate(-90)").attr("dy", "0.32em")
    .attr("text-anchor", "middle").attr("font-size", 7).text(p.ylabel || "log gradient sensitivity");

  var n = p.series.length;
  var plot = g.append("g").attr("clip-path", "url(#clip" + k + ")");
  p.series.forEach(function(s, i) {
    var c = p.color || d3.interpolateViridis(i / n);
    s.color = c;
    if (s.sd != null) {
      var sd = function(j) { return typeof s.sd === "number" ? s.sd : s.sd[j]; };
      var area = d3.area()
        .x(function(d, j) { return x(p.xs[j]); })
        .y0(function(d, j) { return y(d - sd(j)); })
        .y1(function(d, j) { return y(d + sd(j)); });
      plot.append("path").datum(s.values).attr("d", area).attr("fill", c).attr("fill-opacity", 0.2);
    }
    var line = d3.line().x(function(d, j) { return x(p.xs[j]); }).y(function(d) { return y(d); });
    plot.append("path").datum(s.values).attr("d", line).attr("fill", "none")
      .attr("stroke", c).attr("stroke-width", 1.2).attr("stroke-linejoin", "round");
  });

  if (p.legend) {
    var rowH = 9.33, lg = g.append("g");
    var box = lg.append("rect").attr("x", p.legend.left).attr("y", p.legend.top)
      .attr("height", (n - 1) * rowH + 11).attr("rx", 2)
      .attr("fill", "#eaeaf2").attr("fill-opacity", 0.8).attr("stroke", "#d6d6de").attr("stroke-width", 0.8);
    var maxW = 0;
    p.series.forEach(function(s, i) {
      var cy = p.legend.top + 5.5 + i * rowH;
      lg.append("line").attr("x1", p.legend.left + 3).attr("x2", p.legend.left + 16)
        .attr("y1", cy).attr("y2", cy).attr("stroke", s.color).attr("stroke-width", 1.2);
      var t = lg.append("text").attr("x", p.legend.left + 20).attr("y", cy).attr("dy", "0.32em")
        .attr("font-size", 6.4).text(s.label);
      maxW = Math.max(maxW, t.node().getComputedTextLength());
    });
    box.attr("width", maxW + 23);
  }
}

panels.forEach(drawPanel);

var captionY = [245, 501, 759, 1015, 1271];
svg.selectAll(".caption").data(captions).enter().append("text")
  .attr("class", "caption")
  .attr("x", 419).attr("y", function(d, i) { return captionY[i]; })
  .attr("text-anchor", "middle").text(function(d) { return d; });
</script>
</body>
</html>
